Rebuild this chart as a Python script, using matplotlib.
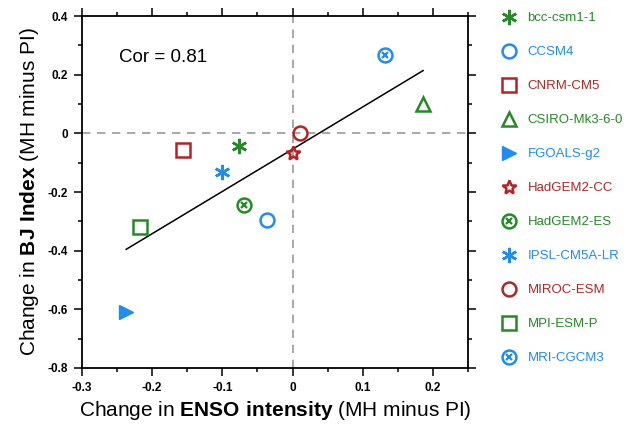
import numpy as np
import matplotlib
matplotlib.use('Agg')
import matplotlib.pyplot as plt
from matplotlib.ticker import MultipleLocator

plt.rcParams['font.family'] = 'Liberation Sans'
plt.rcParams['mathtext.fontset'] = 'custom'
plt.rcParams['mathtext.rm'] = 'Liberation Sans'
plt.rcParams['mathtext.bf'] = 'Liberation Sans:bold'

# model results
models = ['bcc-csm1-1', 'CCSM4', 'CNRM-CM5', 'CSIRO-Mk3-6-0', 'FGOALS-g2',
          'HadGEM2-CC', 'HadGEM2-ES', 'IPSL-CM5A-LR', 'MIROC-ESM', 'MPI-ESM-P',
          'MRI-CGCM3']
enso = [-0.076, -0.037, -0.156, 0.186, -0.237, 0.0, -0.069, -0.101, 0.010, -0.217, 0.131]
bj = [-0.044, -0.297, -0.058, 0.099, -0.610, -0.068, -0.245, -0.133, 0.003, -0.320, 0.266]
cor_txt = 'Cor = 0.81'

green, blue, red = '#238b23', '#1e8cf0', '#b42424'
colors = [green, blue, red, green, blue, red, green, blue, red, green, blue]
markers = [(6, 2, 0), 'o', 's', '^', '>', '*', 'ox', (6, 2, 0), 'o', 's', 'ox']
sizes = [11, 10, 10, 10, 10, 10, 10, 11, 10, 10, 10]

fig = plt.figure(figsize=(6.3, 4.37), dpi=100)
ax = fig.add_axes([0.130, 0.158, 0.613, 0.805])

ax.axhline(0, color='#999999', ls=(0, (5, 4)), lw=1.2, zorder=1)
ax.axvline(0, color='#999999', ls=(0, (5, 4)), lw=1.2, zorder=1)

# regression line over the range of the models
p = np.polyfit(enso, bj, 1)
xl = np.array([min(enso), max(enso)])
ax.plot(xl, np.polyval(p, xl), color='k', lw=1.1, zorder=2)

handles = []
for x, y, c, m, s in zip(enso, bj, colors, markers, sizes):
    if m == 'ox':
        h1, = ax.plot(x, y, 'o', ms=s, mfc='none', mec=c, mew=1.8, zorder=3)
        h2, = ax.plot(x, y, 'x', ms=s * 0.5, mec=c, mew=1.6, zorder=3)
        handles.append((h1, h2))
    elif m == '>':
        h, = ax.plot(x, y, m, ms=s, mfc=c, mec=c, mew=1.0, zorder=3)
        handles.append(h)
    else:
        h, = ax.plot(x, y, ls='none', marker=m, ms=s, mfc='none', mec=c, mew=1.8, zorder=3)
        handles.append(h)

ax.text(-0.247, 0.26, cor_txt, fontsize=13.5, va='center', ha='left')

ax.set_xlim(-0.3, 0.25)
ax.set_ylim(-0.8, 0.4)
ax.xaxis.set_major_locator(MultipleLocator(0.1))
ax.xaxis.set_minor_locator(MultipleLocator(0.05))
ax.yaxis.set_major_locator(MultipleLocator(0.2))
ax.yaxis.set_minor_locator(MultipleLocator(0.1))

def fmt(v, pos):
    if abs(v) < 1e-9:
        return '0'
    return ('%.1f' % v)
ax.xaxis.set_major_formatter(fmt)
ax.yaxis.set_major_formatter(fmt)

ax.tick_params(which='both', direction='out', top=True, right=True, width=1.1)
ax.tick_params(which='major', length=6, labelsize=8.5, pad=4)
ax.tick_params(which='minor', length=3)
for lab in ax.get_xticklabels() + ax.get_yticklabels():
    lab.set_fontweight('bold')
for sp in ax.spines.values():
    sp.set_linewidth(1.3)

ax.set_xlabel('Change in $\\bf{ENSO\\ intensity}$ (MH minus PI)', fontsize=15, labelpad=4)
ax.set_ylabel('Change in $\\bf{BJ\\ Index}$ (MH minus PI)', fontsize=15, labelpad=5)

leg = ax.legend(handles, models, loc='upper left', bbox_to_anchor=(1.075, 1.027),
                frameon=False, fontsize=9.5, labelspacing=1.65, handlelength=1.0,
                handletextpad=0.9, labelcolor=colors, borderaxespad=0)

fig.savefig('out.png', dpi=100)
